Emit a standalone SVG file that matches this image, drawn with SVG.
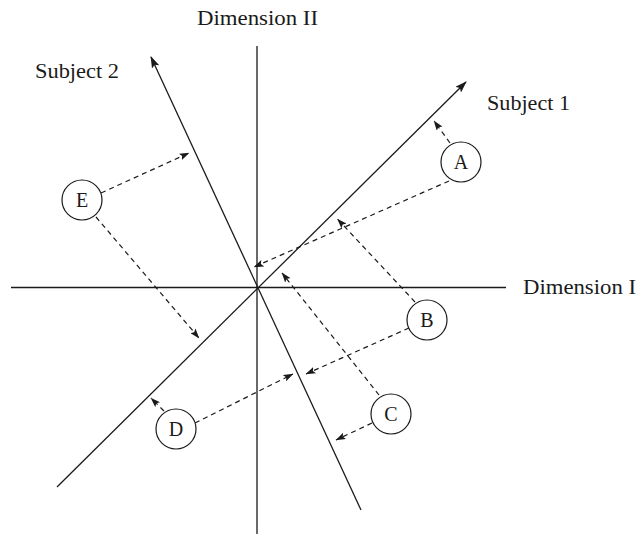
<svg xmlns="http://www.w3.org/2000/svg" width="639" height="534" viewBox="0 0 639 534">
<style>
.ax{stroke:#1a1a1a;stroke-width:1.3;fill:none}
.dash{stroke:#1a1a1a;stroke-width:1.2;fill:none;stroke-dasharray:5 4;marker-end:url(#ahs)}
.nd{fill:#fff;stroke:#1a1a1a;stroke-width:1.2}
.lb{font-family:"Liberation Serif","Times New Roman",serif;font-size:20px;fill:#1a1a1a}
.nt{font-family:"Liberation Serif","Times New Roman",serif;font-size:20px;fill:#1a1a1a;text-anchor:middle}
</style>
<defs>
<marker id="ahl" viewBox="0 0 12 8" refX="11" refY="4" markerWidth="12" markerHeight="8" markerUnits="userSpaceOnUse" orient="auto">
<path d="M0,0 L12,4 L0,8 L2.5,4 z" fill="#1a1a1a"/>
</marker>
<marker id="ahs" viewBox="0 0 10 7" refX="9.5" refY="3.5" markerWidth="10" markerHeight="7" markerUnits="userSpaceOnUse" orient="auto">
<path d="M0,0 L10,3.5 L0,7 L2,3.5 z" fill="#1a1a1a"/>
</marker>
</defs>
<rect width="639" height="534" fill="#fff"/>
<g id="axes">
<line class="ax" x1="257" y1="46" x2="257" y2="534"/>
<line class="ax" x1="11" y1="287.5" x2="506" y2="287.5"/>
<text class="lb" x="197" y="25" textLength="121" lengthAdjust="spacingAndGlyphs">Dimension II</text>
<text class="lb" x="523" y="294" textLength="113" lengthAdjust="spacingAndGlyphs">Dimension I</text>
</g>
<g id="subject1">
<line class="ax" x1="57" y1="487" x2="466" y2="82" marker-end="url(#ahl)"/>
<text class="lb" x="487" y="110" textLength="83" lengthAdjust="spacingAndGlyphs">Subject 1</text>
</g>
<g id="subject2">
<line class="ax" x1="361" y1="510" x2="151" y2="57" marker-end="url(#ahl)"/>
<text class="lb" x="35" y="78" textLength="84" lengthAdjust="spacingAndGlyphs">Subject 2</text>
</g>
<g id="connectors">
<line class="dash" x1="450" y1="143" x2="434" y2="121"/>
<line class="dash" x1="449" y1="181" x2="254" y2="267"/>
<line class="dash" x1="101" y1="193" x2="189" y2="153"/>
<line class="dash" x1="96" y1="217" x2="199" y2="338"/>
<line class="dash" x1="415" y1="302" x2="337.5" y2="219"/>
<line class="dash" x1="409" y1="328" x2="306" y2="374"/>
<line class="dash" x1="379" y1="395" x2="282" y2="273"/>
<line class="dash" x1="372" y1="423" x2="336" y2="440"/>
<line class="dash" x1="164" y1="411" x2="151" y2="398"/>
<line class="dash" x1="195" y1="423" x2="293" y2="374"/>
</g>
<g id="A"><circle class="nd" cx="461" cy="162" r="20"/><text class="nt" x="461" y="169">A</text></g>
<g id="B"><circle class="nd" cx="427" cy="320" r="20"/><text class="nt" x="427" y="327">B</text></g>
<g id="C"><circle class="nd" cx="391" cy="414" r="20"/><text class="nt" x="391" y="421">C</text></g>
<g id="D"><circle class="nd" cx="176" cy="429" r="20"/><text class="nt" x="176" y="436">D</text></g>
<g id="E"><circle class="nd" cx="82" cy="200" r="20"/><text class="nt" x="82" y="207">E</text></g>
</svg>
